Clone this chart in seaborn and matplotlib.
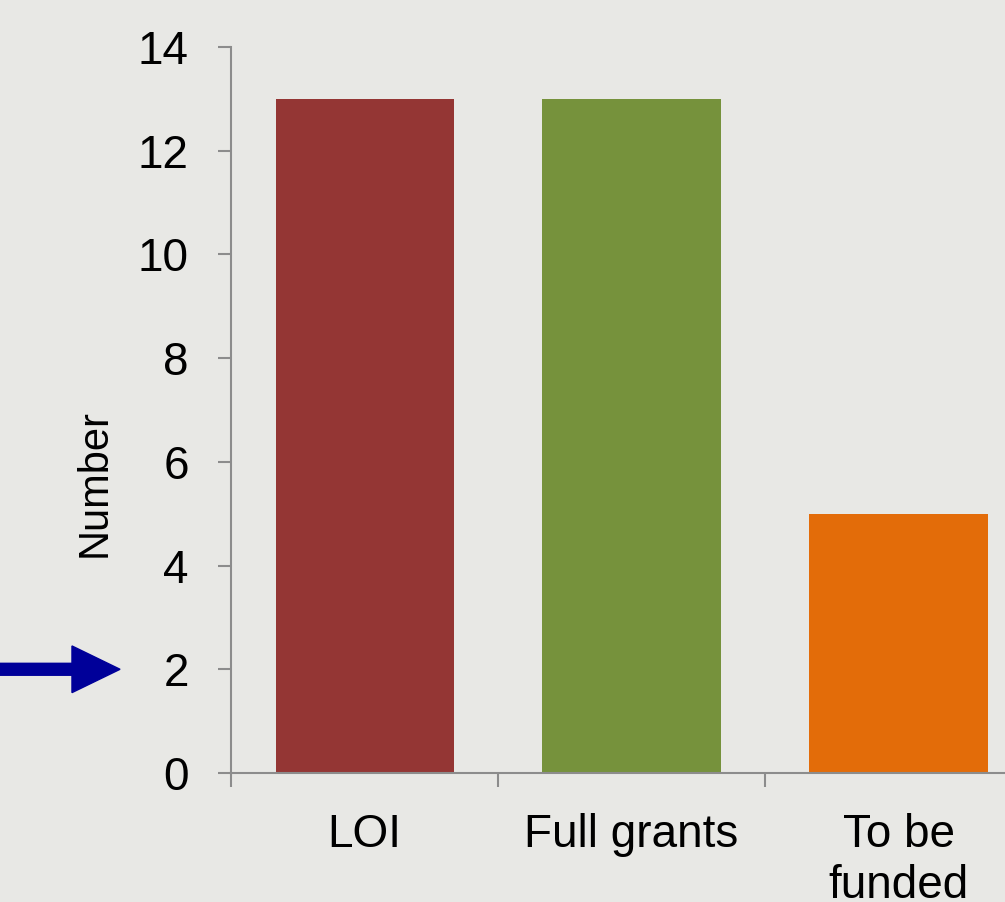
import numpy as np
import pandas as pd
import seaborn as sns
import matplotlib.pyplot as plt
from matplotlib.patches import FancyArrow
from matplotlib.ticker import FixedLocator

# data
categories = ['LOI', 'Full grants', 'To be\nfunded']
values = [13, 13, 5]
bar_colors = ['#943634', '#76923C', '#E36C09']
y_ticks = [0, 2, 4, 6, 8, 10, 12, 14]

sns.set_theme(style='white')
plt.rcParams['font.family'] = ['Liberation Sans', 'DejaVu Sans']
plt.rcParams['text.color'] = 'black'
plt.rcParams['axes.labelcolor'] = 'black'
plt.rcParams['xtick.labelcolor'] = 'black'
plt.rcParams['ytick.labelcolor'] = 'black'

bg = '#E8E8E5'
axis_grey = '#8C8C8C'

df = pd.DataFrame({'category': categories, 'value': values})

fig = plt.figure(figsize=(10.05, 9.02), dpi=100, facecolor=bg)
ax = fig.add_axes([0.2299, 0.143, 0.797, 0.805])
ax.set_facecolor('none')

sns.barplot(data=df, x='category', y='value', hue='category',
            palette=bar_colors, width=0.667, saturation=1,
            linewidth=0, legend=False, ax=ax)

ax.set_ylim(0, 14)
ax.set_xlim(-0.5, 2.5)
ax.set_yticks(y_ticks)
ax.set_yticklabels([str(t) for t in y_ticks])
ax.set_xlabel('')
ax.set_ylabel('Number', fontsize=30, color='black')
ax.yaxis.set_label_coords(-0.145, 0.40)

# category labels at centres, tick marks at the boundaries
ax.xaxis.set_minor_locator(FixedLocator([-0.5, 0.5, 1.5, 2.5]))
ax.tick_params(axis='x', which='major', length=0, pad=29, labelsize=33,
               labelcolor='black')
ax.tick_params(axis='x', which='minor', length=10, width=1.5,
               color=axis_grey, direction='out', bottom=True)
ax.tick_params(axis='y', which='major', length=9.5, width=1.5,
               color=axis_grey, direction='out', left=True, pad=21,
               labelsize=33, labelcolor='black')
for lbl in ax.get_xticklabels():
    lbl.set_linespacing(1.2)
    lbl.set_verticalalignment('top')

for side in ['top', 'right']:
    ax.spines[side].set_visible(False)
for side in ['left', 'bottom']:
    ax.spines[side].set_color(axis_grey)
    ax.spines[side].set_linewidth(1.5)

# blue pointer arrow at y = 2
trans = ax.get_yaxis_transform()
arrow = FancyArrow(-0.29, 2, 0.1514, 0, width=0.23, head_width=0.9,
                   head_length=0.06, length_includes_head=True,
                   color='#000099', transform=trans, clip_on=False)
ax.add_patch(arrow)

fig.savefig('out.png', dpi=100, facecolor=bg)
